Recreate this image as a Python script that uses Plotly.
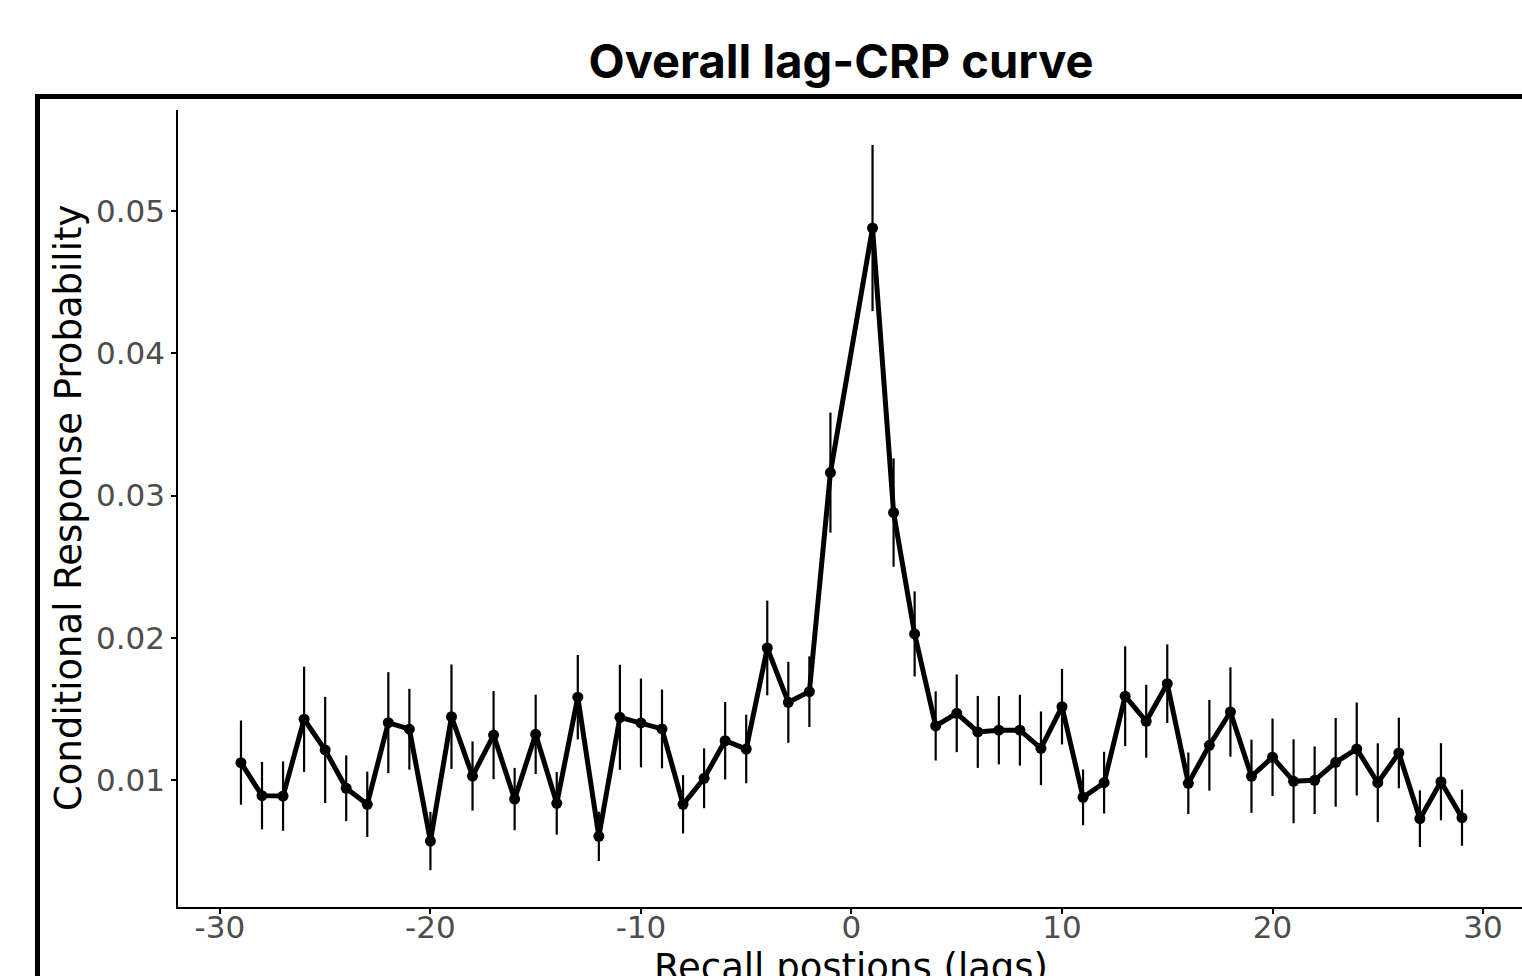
import plotly.graph_objects as go

lags = [-29, -28, -27, -26, -25, -24, -23, -22, -21, -20, -19, -18, -17, -16, -15,
        -14, -13, -12, -11, -10, -9, -8, -7, -6, -5, -4, -3, -2, -1,
        1, 2, 3, 4, 5, 6, 7, 8, 9, 10, 11, 12, 13, 14, 15,
        16, 17, 18, 19, 20, 21, 22, 23, 24, 25, 26, 27, 28, 29]

crp = [0.01122, 0.00890, 0.00887, 0.01427, 0.01211, 0.00942, 0.00829, 0.01403, 0.01357, 0.00571,
       0.01445, 0.01028, 0.01316, 0.00866, 0.01321, 0.00836, 0.01582, 0.00604, 0.01441, 0.01401,
       0.01359, 0.00829, 0.01012, 0.01276, 0.01218, 0.01928, 0.01546, 0.01621, 0.03161,
       0.04880, 0.02880, 0.02027, 0.01380, 0.01469, 0.01338, 0.01350, 0.01350, 0.01223, 0.01515,
       0.00878, 0.00981, 0.01589, 0.01413, 0.01677, 0.00977, 0.01244, 0.01478, 0.01026, 0.01160,
       0.00991, 0.00998, 0.01124, 0.01218, 0.00981, 0.01190, 0.00728, 0.00988, 0.00735]

se = [0.00296, 0.00237, 0.00244, 0.00370, 0.00373, 0.00231, 0.00230, 0.00355, 0.00284, 0.00205,
      0.00367, 0.00243, 0.00310, 0.00219, 0.00279, 0.00220, 0.00297, 0.00173, 0.00369, 0.00312,
      0.00277, 0.00205, 0.00210, 0.00272, 0.00241, 0.00333, 0.00285, 0.00248, 0.00422,
      0.00584, 0.00381, 0.00299, 0.00243, 0.00273, 0.00253, 0.00240, 0.00249, 0.00259, 0.00265,
      0.00196, 0.00217, 0.00351, 0.00256, 0.00276, 0.00216, 0.00319, 0.00314, 0.00257, 0.00272,
      0.00295, 0.00238, 0.00312, 0.00327, 0.00277, 0.00248, 0.00199, 0.00271, 0.00197]

x_ticks = [-30, -20, -10, 0, 10, 20, 30]
x_ticklabels = ["-30", "-20", "-10", "0", "10", "20", "30"]
y_ticks = [0.01, 0.02, 0.03, 0.04, 0.05]
y_ticklabels = ["0.01", "0.02", "0.03", "0.04", "0.05"]

title_text = "Overall lag-CRP curve"
x_title = "Recall postions (lags)"
y_title = "Conditional Response Probability"

W, H = 1522, 976
ML, MR, MT, MB = 178, 0, 110, 69
PW, PH = W - ML - MR, H - MT - MB


def px_x(p):
    return (p - ML) / PW


def px_y(p):
    return (H - MB - p) / PH


fig = go.Figure()
fig.add_trace(go.Scatter(
    x=lags, y=crp, mode="lines+markers",
    line=dict(color="black", width=5),
    marker=dict(color="black", size=11),
    error_y=dict(type="data", array=se, visible=True, color="black", thickness=2.2, width=0),
    showlegend=False,
))

tickfont = dict(family="DejaVu Sans", size=31, color="#4d4d4d")

fig.update_layout(
    width=W, height=H,
    margin=dict(l=ML, r=MR, t=MT, b=MB, pad=0),
    plot_bgcolor="white", paper_bgcolor="white",
    font=dict(family="DejaVu Sans", color="black"),
    title=dict(text="<b>" + title_text + "</b>", x=841 / W, y=1 - 62 / H,
               xref="container", yref="container", xanchor="center", yanchor="middle",
               font=dict(family="Inter", size=47, color="black")),
    xaxis=dict(range=[-31.99, 31.85], tickvals=x_ticks, ticktext=x_ticklabels,
               ticks="outside", ticklen=5, ticklabelstandoff=-13,
               tickwidth=1.5, tickcolor="black", showline=True, linecolor="black", linewidth=1.5,
               showgrid=False, zeroline=False, tickfont=tickfont),
    yaxis=dict(range=[0.001072, 0.0571], tickvals=y_ticks, ticktext=y_ticklabels,
               ticks="outside", ticklen=5, tickwidth=1.5, tickcolor="black",
               showline=True, linecolor="black", linewidth=1.5,
               showgrid=False, zeroline=False, tickfont=tickfont),
    shapes=[dict(type="rect", xref="paper", yref="paper",
                 x0=px_x(37.5), x1=px_x(1600), y0=px_y(1100), y1=px_y(96.5),
                 line=dict(color="black", width=5), fillcolor="rgba(0,0,0,0)", layer="below")],
    annotations=[
        dict(text=y_title, xref="paper", yref="paper", x=px_x(68), y=px_y(508),
             textangle=-90, showarrow=False, xanchor="center", yanchor="middle",
             font=dict(family="DejaVu Sans", size=37, color="black")),
        dict(text=x_title, xref="paper", yref="paper", x=px_x(851), y=px_y(967),
             showarrow=False, xanchor="center", yanchor="middle",
             font=dict(family="DejaVu Sans", size=37, color="black")),
    ],
)

fig.write_html("out.html")
